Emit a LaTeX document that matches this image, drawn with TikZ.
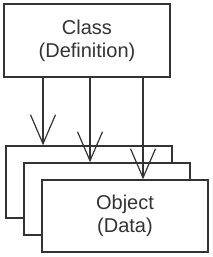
\documentclass[tikz,border=0pt]{standalone}
\usepackage{fontspec}
\setmainfont{Liberation Sans}
\usetikzlibrary{positioning, arrows.meta}

\definecolor{linec}{HTML}{333333}
\tikzset{
  box/.style={draw=linec, line width=1.5pt, fill=white, minimum width=166pt, minimum height=72pt,
    align=center, font=\fontsize{20}{23}\selectfont, text=linec, inner sep=0pt},
  arr/.style={draw=linec, line width=1.5pt, -{Straight Barb[length=29pt, width=25pt, line width=1.2pt]}}
}

\begin{document}
\begin{tikzpicture}[x=1pt, y=-1pt]
        \useasboundingbox (0,0) rectangle (212,257);
        \node (class) [box, minimum height=73pt] at (87,40.5) {Class\\(Definition)};
        \node (obj1) [box] at (89,182) {};
        \node (obj2) [box] at (107,199) {};
        \node (obj3) [box] at (125,216) {Object\\(Data)};
        \coordinate (c1) at (43,0);
        \coordinate (c2) at (90,0);
        \coordinate (c3) at (143,0);
        \draw [arr] (class.south -| c1) -- (obj1.north -| c1);
        \draw [arr] (class.south -| c2) -- (obj2.north -| c2);
        \draw [arr] (class.south -| c3) -- (obj3.north -| c3);
    \end{tikzpicture}
\end{document}
